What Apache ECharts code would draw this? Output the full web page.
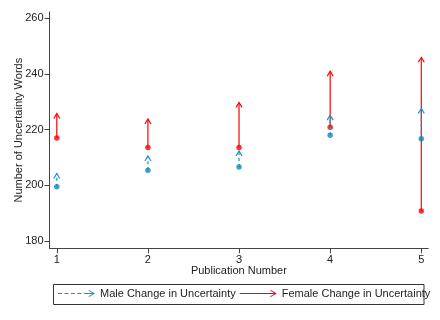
<!DOCTYPE html>
<html>
<head>
<meta charset="utf-8">
<script src="https://cdn.jsdelivr.net/npm/echarts@6/dist/echarts.min.js"></script>
<style>
  html, body { margin: 0; padding: 0; background: #fff; }
  #chart { width: 440px; height: 320px; }
</style>
</head>
<body>
<div id="chart"></div>
<script>
// publication numbers and start/end counts of uncertainty words
const pubs = [1, 2, 3, 4, 5]
const maleStart = [199.4, 205.4, 206.5, 218.0, 216.7]
const maleEnd = [204.2, 210.5, 212.3, 225.2, 227.6]
const femaleStart = [217.0, 213.6, 213.6, 220.8, 190.7]
const femaleEnd = [225.8, 223.8, 229.8, 241.0, 246.0]
const yTicks = [180, 200, 220, 240, 260]

const blue = '#1b93c6'
const red = '#ff0000'
const font = 'Liberation Sans, Arial, sans-serif'

// arrow from (x, y0) to (x, y1) with an open head at the end
function arrowItem(dashed, color) {
  return function (params, api) {
    const p0 = api.coord([api.value(0), api.value(1)])
    const p1 = api.coord([api.value(0), api.value(2)])
    return {
      type: 'group',
      children: [
        {
          type: 'line',
          shape: { x1: p0[0], y1: p0[1], x2: p1[0], y2: p1[1] + 1 },
          style: { stroke: color, lineWidth: 1.2, lineDash: dashed ? [3, 3] : null }
        },
        {
          type: 'polyline',
          shape: { points: [[p1[0] - 3, p1[1] + 5], [p1[0], p1[1]], [p1[0] + 3, p1[1] + 5]] },
          style: { stroke: color, lineWidth: 1.2, fill: null }
        }
      ]
    }
  }
}

const maleIcon = 'path://M0,3h4v1.2H0z M6.5,3h4v1.2H6.5z M13,3h4v1.2H13z M19.5,3h4v1.2H19.5z M26,3h10v1.2H26z M31,0L37,3.6L31,7.2L30.5,6.4L35.3,3.6L30.5,0.8z'
const femaleIcon = 'path://M0,3h36v1.2H0z M31,0L37,3.6L31,7.2L30.5,6.4L35.3,3.6L30.5,0.8z'

const chart = echarts.init(document.getElementById('chart'))
chart.setOption({
  animation: false,
  grid: { left: 49.5, right: 11.7, top: 12, bottom: 71.7, containLabel: false, outerBoundsMode: 'none' },
  textStyle: { fontFamily: font },
  xAxis: {
    type: 'value', min: 0.92, max: 5.077,
    name: 'Publication Number', nameLocation: 'middle', nameGap: 17, nameMoveOverlap: false,
    nameTextStyle: { fontSize: 11, color: '#222', fontFamily: font, verticalAlign: 'top' },
    axisLine: { lineStyle: { color: '#444', width: 1 } },
    axisTick: { show: true, length: 5, customValues: pubs, lineStyle: { color: '#444' } },
    axisLabel: { customValues: pubs, margin: 6, fontSize: 11, color: '#222', fontFamily: font },
    splitLine: { show: false }
  },
  yAxis: {
    type: 'value', min: 177.3, max: 262.3,
    name: 'Number of Uncertainty Words', nameLocation: 'middle', nameGap: 25, nameMoveOverlap: false,
    nameTextStyle: { fontSize: 11, color: '#222', fontFamily: font },
    axisLine: { show: true, lineStyle: { color: '#444', width: 1 } },
    axisTick: { show: true, length: 5, customValues: yTicks, lineStyle: { color: '#444' } },
    axisLabel: { customValues: yTicks, margin: 6, fontSize: 11, color: '#222', fontFamily: font },
    splitLine: { show: false }
  },
  legend: {
    left: 58, top: 288, padding: 0, itemGap: 4, itemWidth: 37, itemHeight: 7.2,
    textStyle: { fontSize: 11, color: '#222', fontFamily: font },
    data: [
      { name: 'Male Change in Uncertainty', icon: maleIcon },
      { name: 'Female Change in Uncertainty', icon: femaleIcon }
    ]
  },
  graphic: [{
    type: 'rect',
    shape: { x: 53.5, y: 284.5, width: 370.5, height: 20 },
    style: { fill: null, stroke: '#333', lineWidth: 1 }
  }],
  series: [
    {
      name: 'Female Change in Uncertainty', type: 'custom', itemStyle: { color: red },
      renderItem: arrowItem(false, red),
      data: pubs.map((p, i) => [p, femaleStart[i], femaleEnd[i]]),
      z: 2
    },
    {
      name: 'Female Start', type: 'scatter', symbol: 'circle', symbolSize: 5.5,
      itemStyle: { color: red },
      data: pubs.map((p, i) => [p, femaleStart[i]]),
      z: 3
    },
    {
      name: 'Male Change in Uncertainty', type: 'custom', itemStyle: { color: blue },
      renderItem: arrowItem(true, blue),
      data: pubs.map((p, i) => [p, maleStart[i], maleEnd[i]]),
      z: 4
    },
    {
      name: 'Male Start', type: 'scatter', symbol: 'circle', symbolSize: 5.5,
      itemStyle: { color: '#1286bb' },
      data: pubs.map((p, i) => [p, maleStart[i]]),
      z: 5
    }
  ]
})
</script>
</body>
</html>
